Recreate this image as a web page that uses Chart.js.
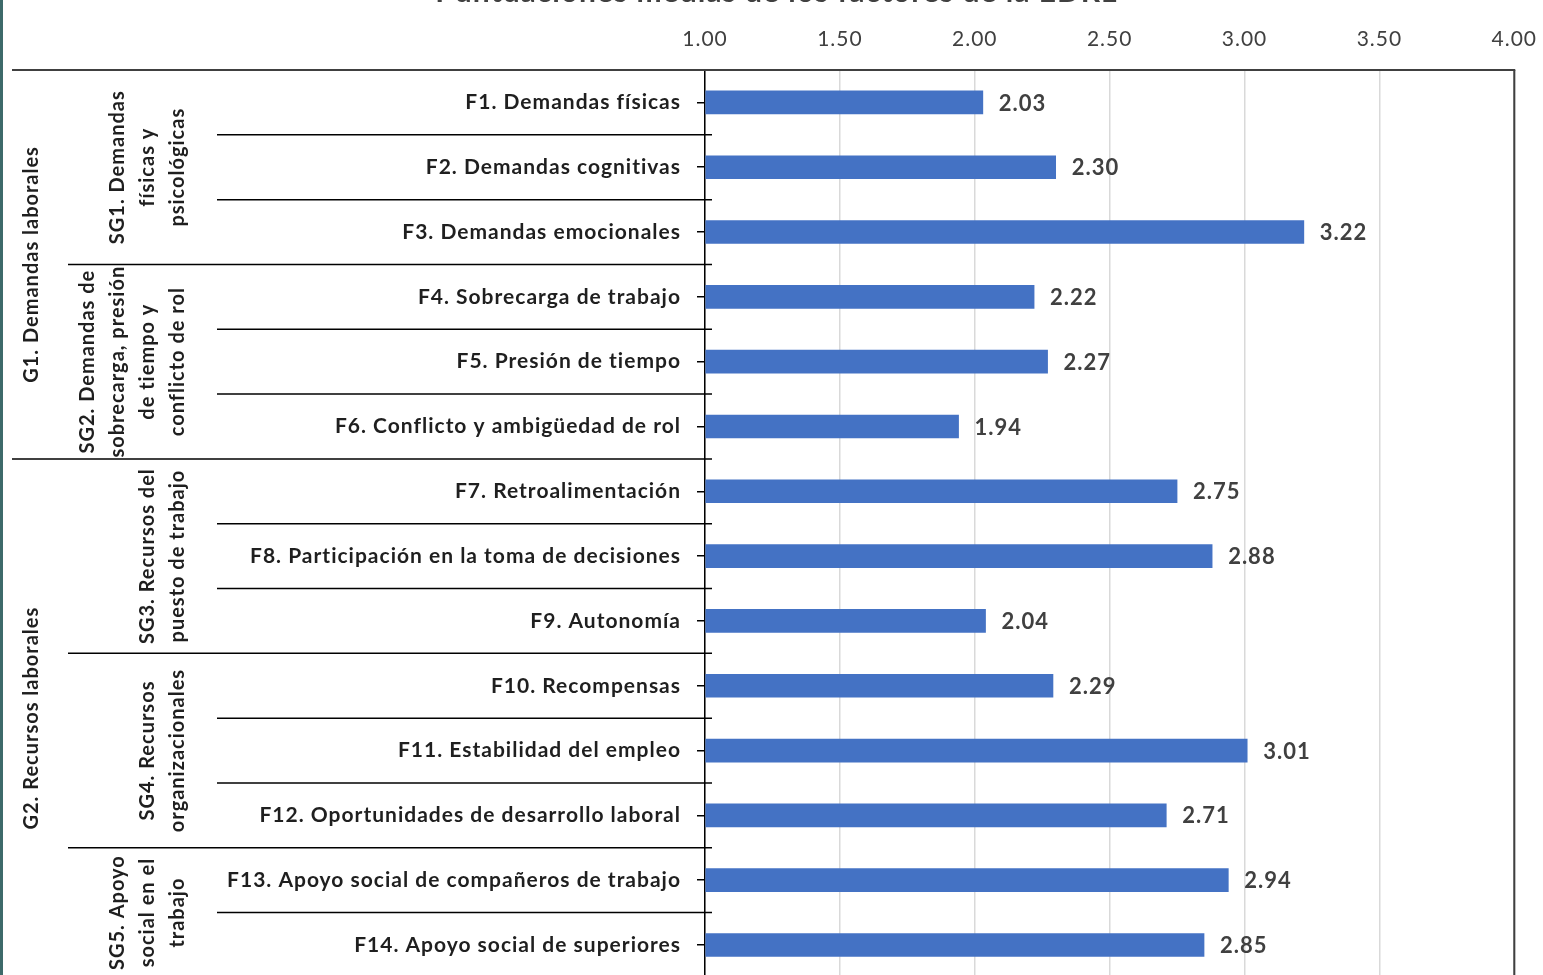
<!DOCTYPE html>
<html lang="es">
<head>
<meta charset="utf-8">
<title>Puntuaciones medias de los factores de la EDRL</title>
<script src="https://cdn.jsdelivr.net/npm/chart.js@4.4.1/dist/chart.umd.min.js"></script>
<style>
  html, body { margin: 0; padding: 0; background: #fff; overflow: hidden; }
  #wrap { position: relative; width: 1543px; height: 975px; overflow: hidden; }
  #franja { position: absolute; left: 0; top: 0; width: 3px; height: 100%; background: #3d6a6a; z-index: 2; }
  #myChart { position: absolute; left: 0; top: -26px; }
</style>
</head>
<body>
<div id="wrap">
  <div id="franja"></div>
  <canvas id="myChart" width="1553" height="1032"></canvas>
</div>
<script>
const titulo = "Puntuaciones medias de los factores de la EDRL";

const factores = [
  "F1. Demandas físicas",
  "F2. Demandas cognitivas",
  "F3. Demandas emocionales",
  "F4. Sobrecarga de trabajo",
  "F5. Presión de tiempo",
  "F6. Conflicto y ambigüedad de rol",
  "F7. Retroalimentación",
  "F8. Participación en la toma de decisiones",
  "F9. Autonomía",
  "F10. Recompensas",
  "F11. Estabilidad del empleo",
  "F12. Oportunidades de desarrollo laboral",
  "F13. Apoyo social de compañeros de trabajo",
  "F14. Apoyo social de superiores"
];

const medias = [2.03, 2.30, 3.22, 2.22, 2.27, 1.94, 2.75, 2.88, 2.04, 2.29, 3.01, 2.71, 2.94, 2.85];

const subgrupos = [
  ["SG1. Demandas", "físicas y", "psicológicas"],
  ["SG2. Demandas de", "sobrecarga, presión", "de tiempo y", "conflicto de rol"],
  ["SG3. Recursos del", "puesto de trabajo"],
  ["SG4. Recursos", "organizacionales"],
  ["SG5. Apoyo", "social en el", "trabajo"]
];
const subgrupoFilas = [3, 3, 3, 3, 2];

const grupos = ["G1. Demandas laborales", "G2. Recursos laborales"];
const grupoFilas = [6, 8];

const ticksX = [1, 1.5, 2, 2.5, 3, 3.5, 4];

const fuente = "Lato";
const ctx = document.getElementById('myChart');

// texto un poco mas ancho, como el original
const espaciado = {
  id: 'espaciado',
  beforeDraw(chart) {
    chart.ctx.letterSpacing = "1px";
  }
};

// valores sobre las barras
const etiquetas = {
  id: 'etiquetas',
  afterDatasetsDraw(chart) {
    const c = chart.ctx;
    const meta = chart.getDatasetMeta(0);
    c.save();
    c.font = "bold 22px " + fuente;
    c.fillStyle = "#404040";
    c.textAlign = "left";
    c.textBaseline = "middle";
    meta.data.forEach((bar, i) => {
      c.fillText(medias[i].toFixed(2), bar.x + 16, bar.y + 1);
    });
    c.restore();
  }
};

// lineas de la tabla de categorias, marco y textos de grupos
const marco = {
  id: 'marco',
  afterDraw(chart) {
    const c = chart.ctx;
    const a = chart.chartArea;
    const y = chart.scales.y;
    const paso = y.getPixelForValue(1) - y.getPixelForValue(0);
    const borde = i => y.getPixelForValue(i) - paso / 2;
    const linea = (x0, y0, x1, y1) => { c.beginPath(); c.moveTo(x0, y0); c.lineTo(x1, y1); c.stroke(); };

    let finSub = [], finGr = [], n = 0;
    subgrupoFilas.forEach(k => { n += k; finSub.push(n); });
    n = 0;
    grupoFilas.forEach(k => { n += k; finGr.push(n); });

    c.save();
    c.strokeStyle = "#000";
    c.lineWidth = 1.5;
    for (let i = 1; i < factores.length; i++) {
      let x0 = 217;
      if (finGr.includes(i)) x0 = 12;
      else if (finSub.includes(i)) x0 = 68;
      linea(x0, borde(i), a.left + 7, borde(i));
    }

    c.strokeStyle = "#404040";
    c.lineWidth = 2;
    linea(12, a.top, a.right + 1, a.top);
    linea(a.right, a.top, a.right, a.bottom);

    c.fillStyle = "#1f1f1f";
    c.textAlign = "center";
    c.textBaseline = "middle";
    c.font = "bold 20px " + fuente;

    let ini = 0;
    grupos.forEach((g, k) => {
      const yc = (borde(ini) + borde(ini + grupoFilas[k])) / 2;
      c.save();
      c.translate(32, yc);
      c.rotate(-Math.PI / 2);
      c.fillText(g, 0, 0);
      c.restore();
      ini += grupoFilas[k];
    });

    ini = 0;
    subgrupos.forEach((lineas, k) => {
      const yc = (borde(ini) + borde(ini + subgrupoFilas[k])) / 2;
      lineas.forEach((t, j) => {
        const x = 178 - (lineas.length - 1 - j) * 30;
        c.save();
        c.translate(x, yc);
        c.rotate(-Math.PI / 2);
        c.fillText(t, 0, 0);
        c.restore();
      });
      ini += subgrupoFilas[k];
    });
    c.restore();
  }
};

new Chart(ctx, {
  type: 'bar',
  data: {
    labels: factores,
    datasets: [{
      data: medias,
      base: 1,
      backgroundColor: "#4472C4",
      barThickness: 23
    }]
  },
  options: {
    indexAxis: 'y',
    responsive: false,
    animation: false,
    layout: { padding: { left: 0, right: 0, top: 0, bottom: 0 } },
    plugins: {
      legend: { display: false },
      tooltip: { enabled: false },
      title: {
        display: true,
        text: titulo,
        color: "#404040",
        font: { family: fuente, size: 30, weight: 'bold' },
        padding: { top: 0, bottom: 0 }
      }
    },
    scales: {
      x: {
        position: 'top',
        min: 1,
        max: 4,
        afterBuildTicks: s => { s.ticks = ticksX.map(v => ({ value: v })); },
        ticks: {
          callback: v => Number(v).toFixed(2),
          color: "#404040",
          font: { family: fuente, size: 21 },
          padding: 18
        },
        grid: { color: "#d9d9d9", lineWidth: 1.5, drawTicks: false },
        border: { display: false },
        afterFit: s => { s.height = 96 - 36; }
      },
      y: {
        ticks: {
          color: "#1f1f1f",
          font: { family: fuente, size: 21, weight: 'bold' },
          padding: 16,
          autoSkip: false
        },
        grid: { drawOnChartArea: false, offset: false, tickLength: 8, color: "#000", lineWidth: 1.5 },
        border: { color: "#000", width: 1.5 },
        afterFit: s => { s.width = 705; }
      }
    }
  },
  plugins: [espaciado, etiquetas, marco]
});
</script>
</body>
</html>
